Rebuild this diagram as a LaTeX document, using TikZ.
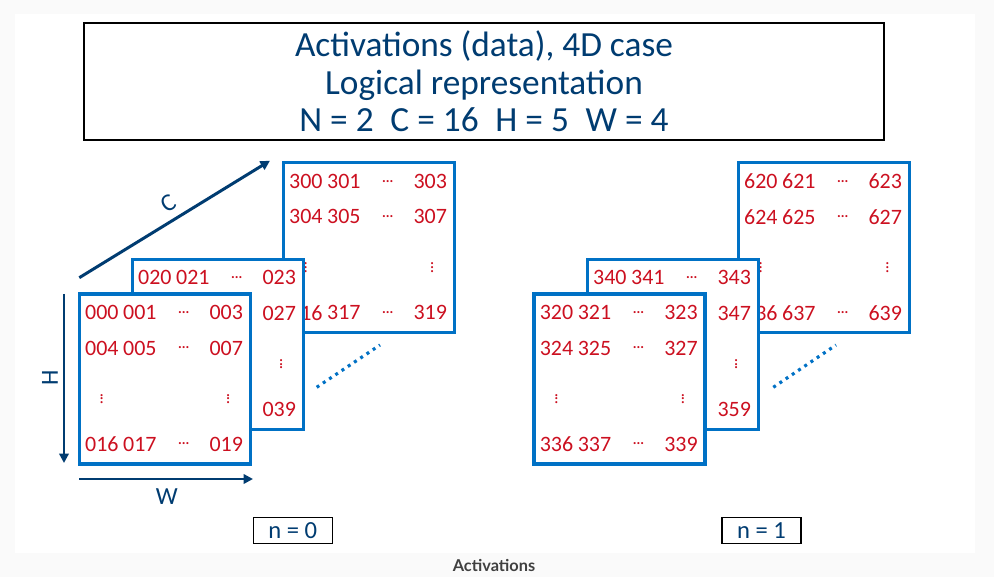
\documentclass[tikz,border=0pt]{standalone}
\usepackage{fontspec}
\setmainfont{Carlito}
\newfontfamily\captionfont{Lato}
\usetikzlibrary{arrows.meta,calc}

\definecolor{frameblue}{RGB}{0,113,197}
\definecolor{numred}{RGB}{204,16,32}
\definecolor{darkblue}{RGB}{0,60,113}
\definecolor{pagegray}{RGB}{250,250,250}
\definecolor{captiongray}{RGB}{64,64,64}

\newcommand\padnum[1]{\ifnum#1<100 0\fi\ifnum#1<10 0\fi\number#1}

\begin{document}
\begin{tikzpicture}[x=0.02cm, y=-0.02cm,
    actbox/.style={draw=frameblue, line width=1.9pt, fill=white, anchor=north west,
        outer sep=0pt, inner sep=0pt, minimum width=3.42cm, minimum height=3.40cm},
    num/.style={text=numred, font=\fontsize{12.5}{14}\selectfont, inner sep=0pt},
    dots/.style={text=numred, font=\bfseries\fontsize{8}{9}\selectfont, inner sep=0pt},
    axis/.style={draw=darkblue, line width=1.7pt, -{Triangle[length=0.19cm, width=0.19cm]}},
    axislabel/.style={text=darkblue, font=\fontsize{14}{16}\selectfont},
    nbox/.style={draw=black, line width=0.75pt, text=darkblue, font=\fontsize{14}{16}\selectfont,
        minimum width=1.58cm, minimum height=0.52cm, inner sep=0pt},
    further/.style={draw=frameblue, line width=1.8pt, dash pattern=on 0.06cm off 0.09cm}]
    % page
    \fill[pagegray] (0,0) rectangle (994,577);
    \fill[white] (15,14) rectangle (975,553);
    \useasboundingbox (0,0) rectangle (994,577);

    % title
    \node[draw, line width=0.8pt, minimum width=16cm, minimum height=2.34cm, align=center,
        text=darkblue, font=\fontsize{20.1}{21.3}\selectfont] (title) at (484,81.5)
        {Activations (data), 4D case\\Logical representation\\
         N = 2\hspace{0.25em} C = 16\hspace{0.25em} H = 5\hspace{0.25em} W = 4};

    % the planes, back to front
    \foreach \base/\bx/\by in {300/283.3/162.7, 20/132.3/259.3, 0/79.3/294,
                               620/738.3/162.7, 340/587.3/259.3, 320/534/294} {
        \node[actbox] (box\base) at (\bx,\by) {};
        \foreach \row/\off/\ry in {1/0/18.5, 2/4/54, 4/16/150} {
            \pgfmathtruncatemacro\ca{\base+\off}
            \pgfmathtruncatemacro\cb{\base+\off+1}
            \pgfmathtruncatemacro\cd{\base+\off+3}
            \node[num, anchor=west] (box\base-\row a) at ($(box\base.north west)+(5.5,\ry)$) {\padnum{\ca}};
            \node[num, anchor=west] (box\base-\row b) at ($(box\base.north west)+(43.5,\ry)$) {\padnum{\cb}};
            \node[dots] (box\base-\row c) at ($(box\base.north west)+(104.5,\ry)$) {...};
            \node[num] (box\base-\row d) at ($(box\base.north west)+(147,\ry)$) {\padnum{\cd}};
        }
        \node[dots, rotate=90] (box\base-3a) at ($(box\base.north west)+(22.4,105)$) {...};
        \node[dots, rotate=90] (box\base-3d) at ($(box\base.north west)+(149,105)$) {...};
    }

    % more channels
    \draw[further] (316.7,387.3) -- (380,345);
    \draw[further] (773.3,387.3) -- (836,345);

    % axes
    \coordinate (cstart) at (79.3,277.7);
    \coordinate (cend) at (270,160.7);
    \coordinate (hstart) at (64,294);
    \coordinate (hend) at (64,463);
    \coordinate (wstart) at (79.3,479);
    \coordinate (wend) at (253,479);
    \draw[axis] (cstart) -- (cend);
    \draw[axis] (hstart) -- (hend);
    \draw[axis] (wstart) -- (wend);
    \node[axislabel, rotate=31.5] (clabel) at (168,203) {C};
    \node[axislabel, rotate=90] (hlabel) at (50,377.7) {H};
    \node[axislabel] (wlabel) at (166.7,497) {W};

    % batch index
    \node[nbox] (n0) at (292.8,530.3) {n = 0};
    \node[nbox] (n1) at (761.5,530.3) {n = 1};

    \node[text=captiongray, font=\captionfont\bfseries\fontsize{9.3}{10}\selectfont] (caption) at (494,565) {Activations};
\end{tikzpicture}
\end{document}
